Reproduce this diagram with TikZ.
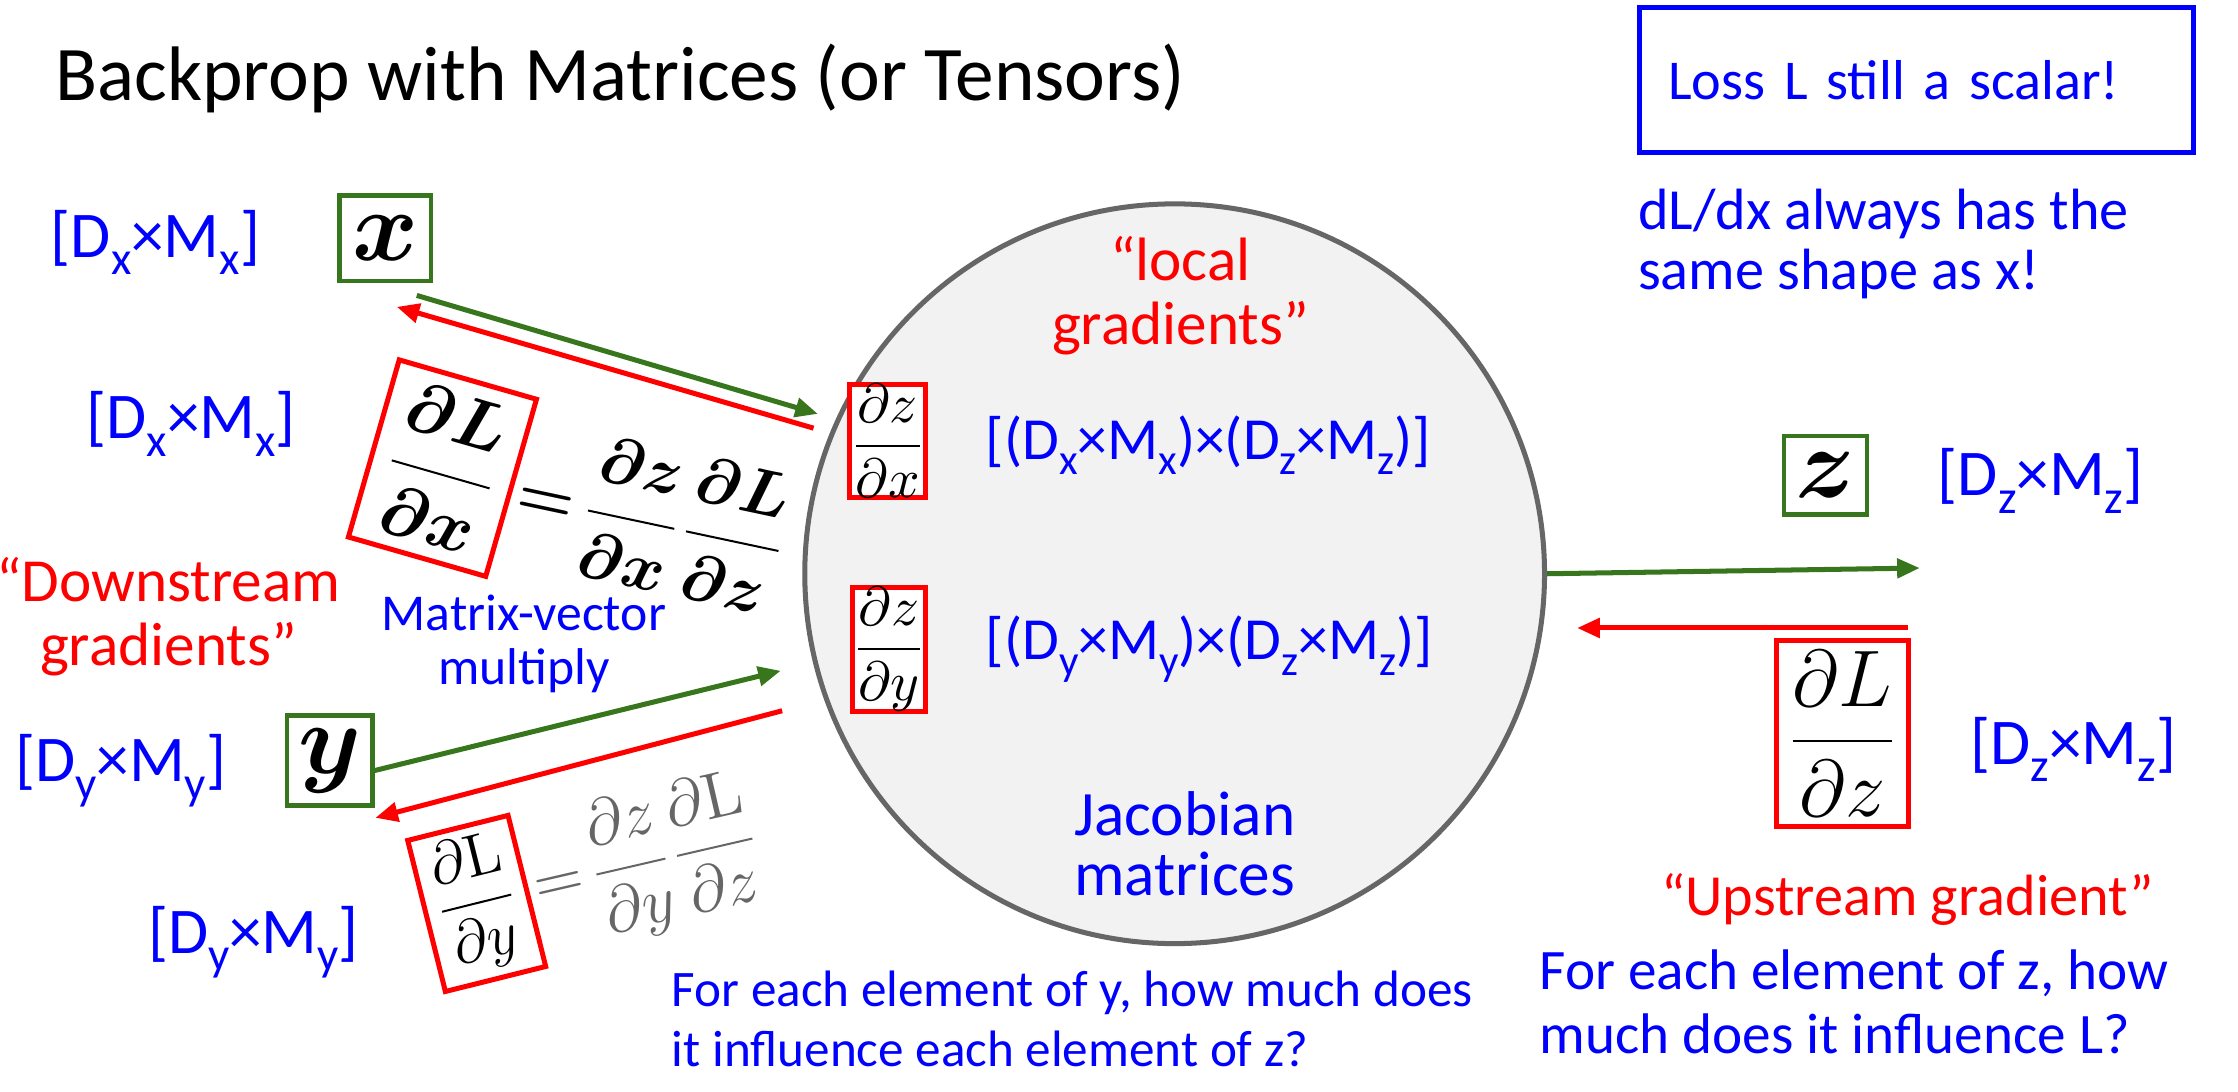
\RequirePackage{fix-cm}
\documentclass[tikz,border=0pt]{standalone}
\usepackage[no-math]{fontspec}
\setmainfont{Carlito}
\usetikzlibrary{arrows.meta}

\definecolor{fwdgreen}{HTML}{38761D}
\definecolor{bwdred}{HTML}{FF0000}
\definecolor{dimblue}{HTML}{0000FF}
\definecolor{nodegray}{HTML}{F2F2F2}
\definecolor{rimgray}{HTML}{666666}

\newcommand{\fsz}[2]{\fontsize{#1pt}{#2pt}\selectfont}
\newcommand{\sub}[1]{\raisebox{-0.55ex}{\scalebox{0.72}{#1}}}
\newcommand{\dims}[1]{[D\sub{#1}×M\sub{#1}]}
\newcommand{\jacdims}[1]{[(D\sub{#1}×M\sub{#1})×(D\sub{z}×M\sub{z})]}

\begin{document}
\begin{tikzpicture}[
  x=0.01cm, y=-0.01cm,
  dimlabel/.style={anchor=west, inner sep=0pt, text=dimblue, font=\fsz{13}{14}},
  note/.style={inner sep=0pt, align=center, font=\fsz{12.2}{12.8}},
  varbox/.style={draw=fwdgreen, line width=0.9pt, fill=white, inner sep=1pt,
    minimum width=0.6cm, minimum height=0.6cm, font=\fsz{20}{20}\boldmath},
  gradbox/.style={draw=bwdred, line width=1pt, fill=white, inner sep=2pt},
  fwd/.style={-{Triangle[length=4.5pt, width=3.8pt]}, fwdgreen, line width=1pt},
  bwd/.style={-{Triangle[length=4.5pt, width=3.8pt]}, bwdred, line width=1pt}
]
\useasboundingbox (0,0) rectangle (1568,765);

% Title
\node[anchor=west, inner sep=0pt, font=\fsz{15.4}{18}] (title) at (38,55) {Backprop with Matrices (or Tensors)};

% Loss box and remark
\node[draw=dimblue, line width=1pt, anchor=west, minimum height=1.02cm, text width=3.48cm,
  inner xsep=0.2cm, align=left, text=dimblue, font=\fsz{11.2}{12}] (loss) at (1147,56) {Loss L still a scalar!};
\node[anchor=west, inner sep=0pt, align=left, text=dimblue, font=\fsz{11.6}{12}] (shape) at (1147,171)
  {dL/dx always has the\\same shape as x!};

% Gate
\node[circle, draw=rimgray, fill=nodegray, line width=1pt, minimum size=5.18cm] (gate) at (823,402) {};
\node[note, text=bwdred] (local) at (827,207) {“local\\gradients”};
\node[gradbox, minimum width=0.49cm, minimum height=0.72cm, inner sep=0pt, font=\fsz{11}{11}] (dzdx) at (622,309)
  {$\displaystyle\frac{\partial z}{\partial x}$};
\node[dimlabel, font=\fsz{11.9}{14}] (jacx) at (690,312) {\jacdims{x}};
\node[gradbox, minimum width=0.45cm, minimum height=0.75cm, inner sep=0pt, font=\fsz{11}{11}] (dzdy) at (623,455)
  {$\displaystyle\frac{\partial z}{\partial y}$};
\node[dimlabel, font=\fsz{11.9}{14}] (jacy) at (690,455) {\jacdims{y}};
\node[note, text=dimblue, font=\fsz{12.6}{12}] (jacobian) at (830,591) {Jacobian\\matrices};

% Input x
\node[varbox, minimum width=0.64cm] (x) at (270,167) {$x$};
\node[dimlabel] (xdim) at (35,170) {\dims{x}};
\node[dimlabel] (dxdim) at (60,297) {\dims{x}};
\node[gradbox, rotate=-16, minimum width=1cm, minimum height=1.29cm, font=\fsz{14}{14}\boldmath] (dLdx) at (310,328)
  {$\displaystyle\frac{\partial L}{\partial x}$};
\node[anchor=west, rotate=-12, inner sep=1pt, font=\fsz{13}{13}\boldmath] (chainx) at (dLdx.east)
  {$\displaystyle=\!\frac{\partial z}{\partial x}\frac{\partial L}{\partial z}$};

% Input y
\node[varbox, minimum height=0.63cm] (y) at (231,533) {$y$};
\node[dimlabel] (ydim) at (10,540) {\dims{y}};
\node[dimlabel] (dydim) at (103,660) {\dims{y}};
\node[gradbox, rotate=14, minimum width=0.64cm, minimum height=0.93cm, font=\fsz{12}{12}] (dLdy) at (334,633)
  {$\displaystyle\frac{\partial \mathrm{L}}{\partial y}$};
\node[anchor=west, rotate=13, inner sep=1pt, text=black!60, font=\fsz{13}{13}] (chainy) at (dLdy.east)
  {$\displaystyle=\!\frac{\partial z}{\partial y}\frac{\partial \mathrm{L}}{\partial z}$};

% Labels on the left
\node[note, text=bwdred] (down) at (118,432) {“Downstream\\gradients”};
\node[note, text=dimblue, font=\fsz{10.3}{10.8}] (matvec) at (367,451) {Matrix-vector\\multiply};
\node[anchor=west, inner sep=0pt, align=left, text=dimblue, font=\fsz{10.2}{12}] (infly) at (470,714)
  {For each element of y, how much does\\it influence each element of z?};

% Output z
\node[varbox, minimum width=0.58cm, minimum height=0.55cm] (z) at (1279,333) {$z$};
\node[dimlabel] (zdim) at (1357,337) {\dims{z}};
\node[gradbox, minimum width=0.92cm, minimum height=1.22cm, font=\fsz{16}{16}] (dLdz) at (1291,514)
  {$\displaystyle\frac{\partial L}{\partial z}$};
\node[dimlabel] (dzdim) at (1380,525) {\dims{z}};
\node[anchor=east, inner sep=0pt, text=bwdred, font=\fsz{11.6}{13}] (up) at (1510,630) {“Upstream gradient”};
\node[anchor=west, inner sep=0pt, align=left, text=dimblue, font=\fsz{11.4}{12.8}] (inflz) at (1078,702)
  {For each element of z, how\\much does it influence L?};

% Arrow ends
\coordinate (xout) at (292,207);
\coordinate (xin) at (573,290);
\coordinate (dxout) at (570,300);
\coordinate (dxin) at (278,215);
\coordinate (yout) at (262,540);
\coordinate (yin) at (547,470);
\coordinate (dyout) at (548,498);
\coordinate (dyin) at (263,573);
\coordinate (zout) at (1345,398);
\coordinate (dzout) at (1337,440);
\coordinate (dzin) at (1105,440);

% Arrows
\draw[fwd] (xout) -- (xin);
\draw[bwd] (dxout) -- (dxin);
\draw[fwd] (yout) -- (yin);
\draw[bwd] (dyout) -- (dyin);
\draw[fwd] (gate.east) -- (zout);
\draw[bwd] (dzout) -- (dzin);

\end{tikzpicture}
\end{document}
